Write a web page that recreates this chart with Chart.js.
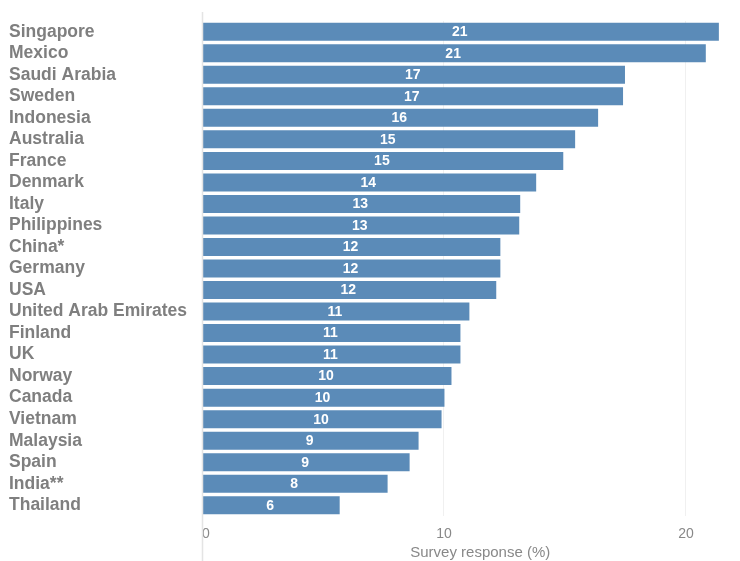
<!DOCTYPE html>
<html>
<head>
<meta charset="utf-8">
<script src="https://cdn.jsdelivr.net/npm/chart.js@4"></script>
<style>
html,body{margin:0;padding:0;background:#fff;}
canvas{display:block;}
</style>
</head>
<body>
<canvas id="c" width="740" height="561"></canvas>
<script>
const countries = ["Singapore","Mexico","Saudi Arabia","Sweden","Indonesia","Australia","France","Denmark","Italy","Philippines","China*","Germany","USA","United Arab Emirates","Finland","UK","Norway","Canada","Vietnam","Malaysia","Spain","India**","Thailand"];
const responses = [21.36,20.82,17.48,17.40,16.37,15.42,14.93,13.81,13.15,13.11,12.33,12.33,12.16,11.05,10.68,10.68,10.31,10.02,9.90,8.95,8.58,7.67,5.69];
const xTickValues = [0,10,20];
const xMax = 21.82;
const axisTitle = "Survey response (%)";

const FONT = "'Liberation Sans', Arial, Helvetica, sans-serif";
Chart.defaults.font.family = FONT;

const barLabels = {
  id: 'barLabels',
  afterDatasetsDraw(chart) {
    const ctx = chart.ctx;
    const meta = chart.getDatasetMeta(0);
    ctx.save();
    ctx.fillStyle = '#ffffff';
    ctx.font = "bold 14px " + FONT;
    ctx.textAlign = 'center';
    ctx.textBaseline = 'middle';
    meta.data.forEach((bar, i) => {
      const cx = (bar.x + bar.base) / 2;
      ctx.fillText(String(Math.round(responses[i])), cx - 1, bar.y + 0.5);
    });
    ctx.restore();
  }
};

const extras = {
  id: 'extras',
  afterDraw(chart) {
    const xs = chart.scales.x;
    const ctx = chart.ctx;
    const x = Math.round(xs.getPixelForValue(0)) + 0.5;
    ctx.save();
    ctx.strokeStyle = '#e4e4e4';
    ctx.lineWidth = 1.5;
    ctx.beginPath();
    ctx.moveTo(x, chart.chartArea.top - 9);
    ctx.lineTo(x, chart.height);
    ctx.stroke();
    // axis title
    ctx.fillStyle = '#888888';
    ctx.font = "15px " + FONT;
    ctx.textAlign = 'center';
    ctx.textBaseline = 'middle';
    ctx.fillText(axisTitle, xs.getPixelForValue(11.5), chart.height - 8);
    ctx.restore();
  }
};

new Chart(document.getElementById('c'), {
  type: 'bar',
  data: {
    labels: countries,
    datasets: [{
      data: responses,
      backgroundColor: '#5b8bb8',
      borderWidth: 0,
      barPercentage: 0.836,
      categoryPercentage: 1.0
    }]
  },
  options: {
    indexAxis: 'y',
    responsive: false,
    animation: false,
    layout: { padding: { left: 9, top: 21, right: 0, bottom: 0 } },
    plugins: { legend: { display: false }, tooltip: { enabled: false } },
    scales: {
      y: {
        type: 'category',
        grid: { display: false },
        border: { display: false },
        ticks: {
          autoSkip: false,
          crossAlign: 'far',
          color: '#7f7f7f',
          font: { size: 17.5, weight: 'bold' },
          padding: 0
        },
        afterFit(scale) { scale.width = 193; }
      },
      x: {
        min: 0,
        max: xMax,
        afterBuildTicks(scale) {
          scale.ticks = xTickValues.map(v => ({ value: v })).concat([{ value: xMax }]);
        },
        afterFit(scale) { scale.height = 45; },
        grid: {
          drawTicks: false,
          color: (c) => (c.tick && c.tick.value !== 0 && xTickValues.includes(c.tick.value)) ? '#f0f0f0' : 'rgba(0,0,0,0)',
          lineWidth: 1
        },
        border: { display: false },
        ticks: {
          autoSkip: false,
          maxRotation: 0,
          align: 'inner',
          color: '#888888',
          font: { size: 14 },
          padding: 10,
          callback: (v) => xTickValues.includes(v) ? String(v) : ''
        },
        title: { display: false }
      }
    }
  },
  plugins: [barLabels, extras]
});
</script>
</body>
</html>
